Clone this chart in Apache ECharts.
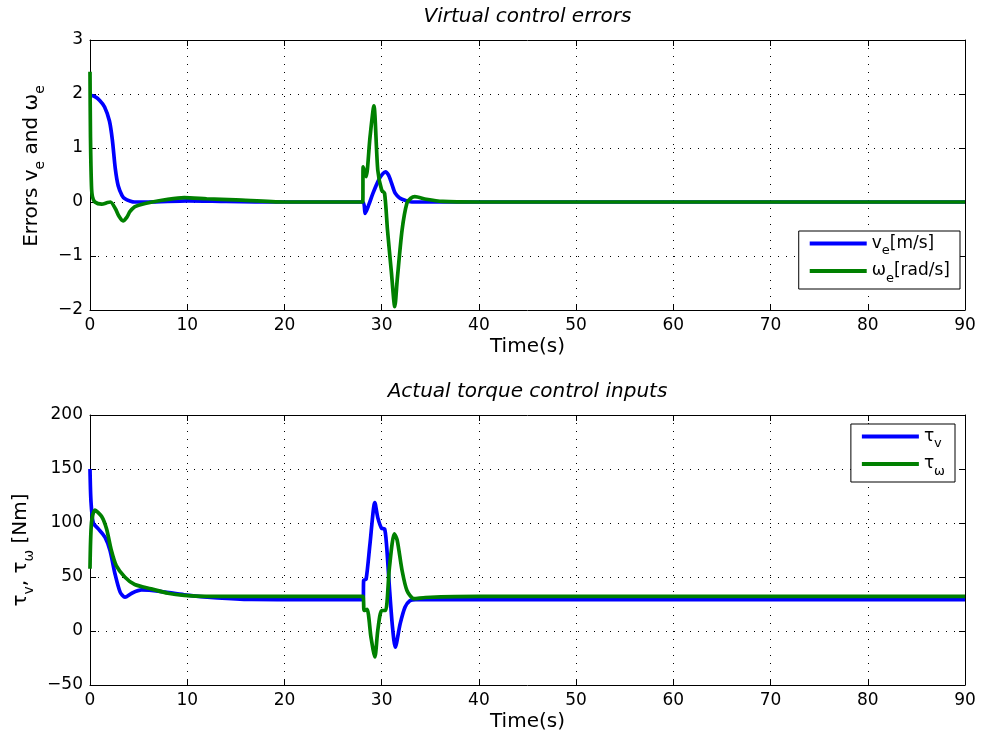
<!DOCTYPE html>
<html><head><meta charset="utf-8">
<script src="https://cdn.jsdelivr.net/npm/echarts@6/dist/echarts.min.js"></script>
<style>html,body{margin:0;padding:0;background:#fff}#c{width:983px;height:738px}</style>
</head><body><div id="c"></div>
<script>
// ---- data ----
const xTicks = [0, 10, 20, 30, 40, 50, 60, 70, 80, 90];
const yTicksTop = [-2, -1, 0, 1, 2, 3];
const yTicksBottom = [-50, 0, 50, 100, 150, 200];

const tVe = [0, 0.5, 1, 1.5, 2, 2.3, 2.6, 2.9, 3.3, 3.6, 4.1, 4.6, 6, 10, 14, 20, 28.05, 28.3, 28.7, 29.1, 29.7, 30.1, 30.4, 30.7, 30.9, 31.2, 31.4, 31.8, 32.1, 32.6, 33.1, 35, 40, 90];
const ve  = [1.98, 1.95, 1.88, 1.76, 1.5, 1.15, 0.62, 0.3, 0.12, 0.06, 0.02, 0, 0, 0.02, 0.01, 0, 0, -0.21, -0.04, 0.16, 0.41, 0.52, 0.56, 0.5, 0.41, 0.25, 0.16, 0.08, 0.05, 0.02, 0, 0, 0, 0];

const tWe = [0, 0.05, 0.15, 0.25, 0.5, 1.2, 1.8, 2.1, 2.6, 3.0, 3.4, 3.8, 4.1, 4.6, 5, 6.4, 8, 9.7, 12, 15, 20, 28.05, 28.1, 28.4, 28.8, 29.2, 29.6, 30.0, 30.3, 30.6, 31.0, 31.35, 31.6, 32.1, 32.6, 33.0, 33.4, 34.6, 36.3, 40, 90];
const we  = [2.41, 1.2, 0.3, 0.1, 0.0, -0.04, -0.01, 0.0, -0.12, -0.27, -0.35, -0.28, -0.18, -0.09, -0.06, 0.0, 0.05, 0.08, 0.06, 0.04, 0, 0, 0.65, 0.47, 1.2, 1.78, 0.59, 0.22, 0.16, -0.52, -1.3, -1.94, -1.44, -0.52, -0.02, 0.07, 0.1, 0.05, 0.01, 0, 0];

const tTv = [0, 0.1, 0.34, 0.86, 1.54, 2.06, 2.57, 3.1, 3.6, 4.3, 5.3, 7, 9.7, 13.1, 16.6, 22, 28.1, 28.15, 28.4, 28.8, 29.3, 29.6, 30, 30.3, 30.5, 30.8, 31.1, 31.4, 31.9, 32.4, 32.9, 33.5, 40, 90];
const tauV = [150, 120, 100, 94.6, 86.9, 74.5, 53, 36, 31.3, 35, 38, 37, 33.5, 30.7, 29.2, 29, 29, 47, 48, 80.8, 119, 105, 95, 94.5, 80, 40, 5, -15, 6.6, 22, 28, 29, 29, 29];

const tTw = [0, 0.15, 0.5, 1.2, 1.7, 2.2, 2.7, 3.6, 4.6, 6.3, 8, 9.7, 12, 20, 28.05, 28.2, 28.5, 28.9, 29.3, 29.6, 30, 30.4, 30.8, 31.3, 31.6, 32.1, 32.6, 33.3, 34.5, 40, 90];
const tauW = [57.6, 100, 112, 106, 94.6, 74.5, 60.6, 49.8, 43, 39, 35, 32.9, 32, 32, 32, 19, 20, -5.7, -24, 0.5, 19, 19, 59, 90, 84, 56, 37.5, 30, 31, 32, 32];

// ---- chart ----
const FONT = 'DejaVu Sans';
const pairs = (t, v) => t.map((x, i) => [x, v[i]]);
const fmtY = v => v < 0 ? '\u2212' + (-v) : String(v);
const grids = [
  {left: 90, right: 18, top: 40, height: 270},
  {left: 90, right: 18, top: 415, height: 270}
];
const rich = {
  n: {fontFamily: FONT, fontSize: 20, lineHeight: 30, color: '#000'},
  s: {fontFamily: FONT, fontSize: 14, lineHeight: 14, verticalAlign: 'bottom', color: '#000'}
};
const lrich = {
  n: {fontFamily: FONT, fontSize: 17, lineHeight: 28, color: '#000'},
  s: {fontFamily: FONT, fontSize: 13, lineHeight: 13, verticalAlign: 'bottom', color: '#000'}
};
function xAxes(g, title) {
  const base = {type: 'value', gridIndex: g, min: 0, max: 90, interval: 10,
    axisLine: {show: true, onZero: false, lineStyle: {color: '#000', width: 1}},
    axisTick: {show: true, inside: true, length: 6, lineStyle: {color: '#000'}}};
  return [
    Object.assign({}, base, {position: 'bottom',
      axisLabel: {fontFamily: FONT, fontSize: 17, color: '#000', margin: 7},
      splitLine: {show: true, lineStyle: {color: '#000', type: [1, 7], width: 1}},
      name: 'Time(s)', nameLocation: 'middle', nameGap: 27,
      nameTextStyle: {fontFamily: FONT, fontSize: 20, color: '#000'}}),
    Object.assign({}, base, {position: 'top', axisLabel: {show: false}, splitLine: {show: false},
      name: title, nameLocation: 'middle', nameGap: 13,
      nameTextStyle: {fontFamily: FONT, fontSize: 20, fontStyle: 'italic', color: '#000'}})
  ];
}
function yAxes(g, min, max, interval, name, gap, pad) {
  const base = {type: 'value', gridIndex: g, min: min, max: max, interval: interval,
    axisLine: {show: true, onZero: false, lineStyle: {color: '#000', width: 1}},
    axisTick: {show: true, inside: true, length: 6, lineStyle: {color: '#000'}}};
  return [
    Object.assign({}, base, {position: 'left',
      axisLabel: {fontFamily: FONT, fontSize: 17, color: '#000', margin: 7, formatter: fmtY},
      splitLine: {show: true, lineStyle: {color: '#000', type: [1, 7], width: 1}},
      name: name, nameLocation: 'middle', nameGap: gap, nameRotate: 90,
      nameTextStyle: {rich: rich, padding: pad}}),
    Object.assign({}, base, {position: 'right', axisLabel: {show: false}, splitLine: {show: false}})
  ];
}
const labels = {
  ve: '{n|v}{s|e}{n|[m/s]}',
  we: '{n|\u03c9}{s|e}{n|[rad/s]}',
  tv: '{n|\u03c4}{s|v}',
  tw: '{n|\u03c4}{s|\u03c9}'
};
function legend(names, right, top) {
  return {data: names, orient: 'vertical', right: right, top: top,
    padding: [4, 10, 4, 11], itemGap: 5, itemWidth: 57, itemHeight: 4, icon: 'rect',
    borderColor: '#000', borderWidth: 1, backgroundColor: '#fff',
    formatter: n => labels[n], textStyle: {rich: lrich}};
}
const line = (name, color, xi, yi, d, z) => ({name: name, type: 'line', xAxisIndex: xi, yAxisIndex: yi,
  data: d, showSymbol: false, smooth: 0.25, color: color, z: z,
  lineStyle: {width: 3.7, color: color}, animation: false});

const chart = echarts.init(document.getElementById('c'), null, {renderer: 'canvas'});
chart.setOption({
  animation: false,
  backgroundColor: '#fff',
  grid: grids,
  xAxis: [...xAxes(0, 'Virtual control errors'), ...xAxes(1, 'Actual torque control inputs')],
  yAxis: [...yAxes(0, -2, 3, 1, '{n|Errors v}{s|e}{n| and \u03c9}{s|e}', 40, [0, 0, 0, 18]),
          ...yAxes(1, -50, 200, 50, '{n|\u03c4}{s|v}{n|, \u03c4}{s|\u03c9}{n| [Nm]}', 48, 0)],
  legend: [legend(['ve', 'we'], 23, 231), legend(['tv', 'tw'], 28, 424)],
  series: [
    line('ve', '#0000ff', 0, 0, pairs(tVe, ve), 2),
    line('we', '#008000', 0, 0, pairs(tWe, we), 3),
    line('tv', '#0000ff', 2, 2, pairs(tTv, tauV), 2),
    line('tw', '#008000', 2, 2, pairs(tTw, tauW), 3)
  ]
});
</script></body></html>
